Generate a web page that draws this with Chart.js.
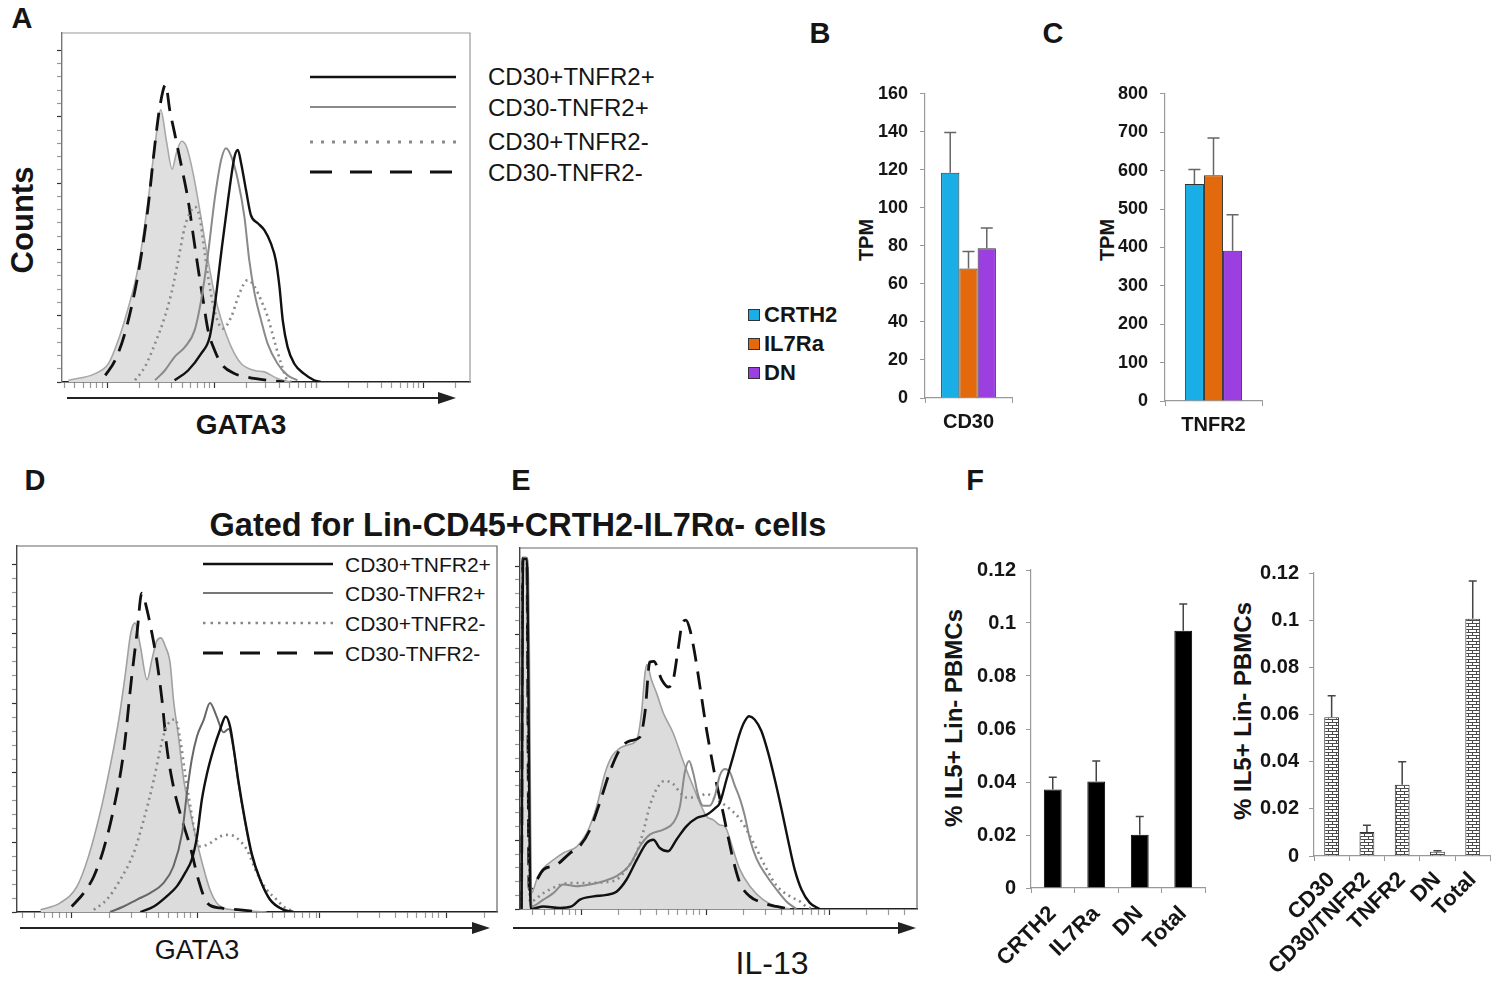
<!DOCTYPE html>
<html>
<head>
<meta charset="utf-8">
<script src="https://cdn.jsdelivr.net/npm/chart.js@4.4.0/dist/chart.umd.min.js"></script>
<style>
  body { margin: 0; background: #fff; width: 1500px; height: 981px; position: relative; overflow: hidden;
         font-family: "Liberation Sans", Arial, sans-serif; color: #151515; }
  canvas { position: absolute; }
  .t { position: absolute; transform: translate(-50%, -50%); white-space: nowrap; line-height: 1; }
  .v { transform: translate(-50%, -50%) rotate(-90deg); }
  .l { position: absolute; transform: translate(0, -50%); white-space: nowrap; line-height: 1; }
  .b { font-weight: bold; }
  .sq { position: absolute; width: 10px; height: 10px; border: 1px solid #333; }
</style>
</head>
<body>

<!-- panel letters and titles -->
<div class="t b" style="left:22px;top:18px;font-size:29px">A</div>
<div class="t b" style="left:820px;top:33px;font-size:29px">B</div>
<div class="t b" style="left:1053px;top:33px;font-size:29px">C</div>
<div class="t b" style="left:35px;top:480px;font-size:29px">D</div>
<div class="t b" style="left:521px;top:480px;font-size:29px">E</div>
<div class="t b" style="left:975px;top:480px;font-size:29px">F</div>

<div class="t b v" style="left:22px;top:220px;font-size:31px">Counts</div>
<div class="t b" style="left:241px;top:425px;font-size:28px">GATA3</div>
<div class="t b" style="left:518px;top:525px;font-size:32.5px">Gated for Lin-CD45+CRTH2-IL7R&alpha;- cells</div>
<div class="t" style="left:197px;top:950px;font-size:27px">GATA3</div>
<div class="t" style="left:772px;top:963px;font-size:32px">IL-13</div>

<div class="t b v" style="left:866px;top:240px;font-size:20px">TPM</div>
<div class="t b v" style="left:1107px;top:240px;font-size:20px">TPM</div>
<div class="t b v" style="left:954px;top:718px;font-size:24px">% IL5+ Lin- PBMCs</div>
<div class="t b v" style="left:1243px;top:711px;font-size:24px">% IL5+ Lin- PBMCs</div>

<!-- legend of B/C -->
<div class="sq" style="left:748px;top:309px;background:#1aaee6"></div>
<div class="sq" style="left:748px;top:338px;background:#e2690c"></div>
<div class="sq" style="left:748px;top:367px;background:#9c3fe0"></div>
<div class="l b" style="left:764px;top:315px;font-size:22px">CRTH2</div>
<div class="l b" style="left:764px;top:344px;font-size:22px">IL7Ra</div>
<div class="l b" style="left:764px;top:373px;font-size:22px">DN</div>

<!-- legends of A and D -->
<svg width="1500" height="981" style="position:absolute;left:0;top:0">
  <line x1="310" x2="456" y1="77" y2="77" stroke="#111" stroke-width="2.5"/>
  <line x1="310" x2="456" y1="107" y2="107" stroke="#8a8a8a" stroke-width="2.2"/>
  <line x1="310" x2="456" y1="142" y2="142" stroke="#8a8a8a" stroke-width="3" stroke-dasharray="3 8"/>
  <line x1="310" x2="456" y1="172" y2="172" stroke="#111" stroke-width="3" stroke-dasharray="22 18"/>
  <line x1="203" x2="333" y1="564" y2="564" stroke="#111" stroke-width="2.5"/>
  <line x1="203" x2="333" y1="593" y2="593" stroke="#777" stroke-width="2"/>
  <line x1="203" x2="333" y1="623" y2="623" stroke="#888" stroke-width="2.5" stroke-dasharray="2.5 5"/>
  <line x1="203" x2="333" y1="653" y2="653" stroke="#111" stroke-width="3" stroke-dasharray="20 17"/>
  <!-- axis arrows -->
  <line x1="67" x2="450" y1="398" y2="398" stroke="#222" stroke-width="2"/>
  <path d="M438,392 L456,398 L438,404 Z" fill="#222"/>
  <line x1="20" x2="485" y1="928" y2="928" stroke="#222" stroke-width="2"/>
  <path d="M472,922 L490,928 L472,934 Z" fill="#222"/>
  <line x1="513" x2="910" y1="928" y2="928" stroke="#222" stroke-width="2"/>
  <path d="M898,922 L916,928 L898,934 Z" fill="#222"/>
</svg>
<div class="l" style="left:488px;top:77px;font-size:24px">CD30+TNFR2+</div>
<div class="l" style="left:488px;top:108px;font-size:24px">CD30-TNFR2+</div>
<div class="l" style="left:488px;top:142px;font-size:24px">CD30+TNFR2-</div>
<div class="l" style="left:488px;top:173px;font-size:24px">CD30-TNFR2-</div>
<div class="l" style="left:345px;top:564px;font-size:21px">CD30+TNFR2+</div>
<div class="l" style="left:345px;top:593px;font-size:21px">CD30-TNFR2+</div>
<div class="l" style="left:345px;top:623px;font-size:21px">CD30+TNFR2-</div>
<div class="l" style="left:345px;top:653px;font-size:21px">CD30-TNFR2-</div>

<canvas id="histA"></canvas>
<canvas id="histD"></canvas>
<canvas id="histE"></canvas>
<canvas id="barB"></canvas>
<canvas id="barC"></canvas>
<canvas id="barF1"></canvas>
<canvas id="barF2"></canvas>

<script>
// ---- histogram A (GATA3), x in channel units 0-1000, y in % of max ----
const aIsoX = [16,81,114,138,163,187,211,228,242,256,270,280,293,305,321,341,358,374,390,415,439,472,496,528,561];
const aIsoY = [0.5,2.4,5.3,12,21.5,33,52,68,78,69,61,65.5,69,67.5,60,47,35,25,18,10,5.3,3.3,2.9,1,0];
const aPosPosX = [276,309,341,362,374,390,407,423,431,439,451,463,480,496,512,524,533,541,553,569,593,618,634];
const aPosPosY = [0.5,3.3,8.1,12.9,21.5,36.8,52.2,64.6,66.5,62.7,55,47.8,45.5,43.5,39.7,34.9,27.3,17.7,10,5.3,2.4,0.5,0];
const aNegPosX = [228,252,276,301,325,341,358,374,390,402,415,431,447,459,472,488,504,528,553,577];
const aNegPosY = [0.5,3.3,7.2,10,14.8,23.4,36.8,52.2,63.6,67,64.6,57.9,47.4,34.9,25.4,17.7,11,5.3,1.9,0.5];
const aPosNegX = [179,203,228,252,268,285,301,313,325,337,350,362,378,394,415,435,455,472,488,504,520,537,553,569];
const aPosNegY = [0.5,4.3,11,18.7,25.4,35,44.5,48.3,50.2,47.4,36.8,27.3,18.7,15.3,18.7,25.4,29.2,27.3,23.4,18.7,12,5.3,0.5,0];
const aNegNegX = [106,130,154,179,195,211,228,240,254,264,276,293,309,321,333,346,358,374,390,423,455,504,545];
const aNegNegY = [1.9,6.2,13.9,26.3,36.8,50.2,68.4,79,85.2,78,71.3,61.7,52.2,42.6,33,23.4,14.8,9.1,5.3,2.4,1.4,0.5,0];
const aDecades = [111, 374, 624, 886];

// ---- histogram D (GATA3, gated) ----
const dIsoX = [49,90,125,149,173,194,212,226,237,246,257,271,281,291,300,309,319,326,337,347,361,375,389,402,416,430,451,493,520];
const dIsoY = [0.6,2.5,7,15.2,27,39.8,52.5,65.3,76.2,79,72.6,63.5,68.9,74,74.9,72.6,68,58,47.3,36.4,27.3,19.1,11.8,6.1,2.5,1.1,0.6,0.2,0];
const dPosPosX = [257,285,312,333,350,364,375,385,396,409,423,435,444,451,461,475,489,507,527,555,576];
const dPosPosY = [0,1.5,4.3,7,10.6,14.3,20.6,30.6,37.9,44.3,49.8,53.4,50.6,45.1,36,25.1,16,8.7,3.4,0.6,0];
const dNegPosX = [194,222,250,278,305,326,344,354,364,375,389,402,416,430,441,451,461,475,489,507,527,548,576];
const dNegPosY = [0,1.5,3.4,5.2,7.9,12.5,21.6,32.5,41.6,48,52.5,57.1,53.4,49.1,50,44.6,35.5,24.6,15.5,8.7,3.4,1.1,0];
const dPosNegX = [160,187,215,243,264,285,298,309,319,330,340,350,361,371,382,402,423,441,458,479,500,520,541,555,576];
const dPosNegY = [0.6,3.4,8.8,16.1,25.2,36.1,44.3,49.8,52.1,52.6,47.1,38,28.9,21.6,17.9,18.8,20.6,21.1,20.2,17,10.6,6.1,3.4,1.5,0.2];
const dNegNegX = [114,139,160,180,201,222,239,250,260,271,281,291,302,312,326,344,361,378,396,423,465,507];
const dNegNegY = [1.5,5.2,9.7,17,28,43.5,64.3,76.2,87.1,82.5,76.2,68.9,58,45.1,34.2,25.1,17.8,8.8,2.5,1.1,0.6,0];
const dDecades = [114, 375, 631, 895];

// ---- histogram E (IL-13, gated) ----
const eIsoX = [2,5,21,29,42,59,84,109,143,168,193,214,231,252,273,294,306,315,320,331,344,361,386,407,419,436,457,470,487,503,516,524,537,554,579,612,646,680];
const eIsoY = [0,96.7,96.7,4.4,8.1,11.3,13.6,15.5,17.3,21,28.4,37.6,42.2,44.6,45.5,46.9,54.3,65.4,67.7,63.5,59.8,54.3,48.7,42.2,38.6,34,28.4,25.6,24.7,23.3,22.9,21,16.4,10.9,6.3,2.6,0.7,0];
const ePosPosX = [4,8,17,27,59,101,130,151,185,218,243,268,294,319,336,352,373,394,419,445,470,491,503,520,537,554,566,577,591,608,625,642,659,675,692,709,730,755];
const ePosPosY = [0,97,97,0,0.7,0.3,0.7,2.6,3.5,3.9,4.8,8.1,13.6,18.3,19.2,16.9,16,19.2,22.9,25.2,26.1,27.9,29.3,35.8,42.3,48.8,52,53.4,52.5,49.3,43.3,35.8,27.5,19.2,10.9,5.4,1.7,0];
const eNegPosX = [4,7,17,29,59,84,109,143,176,210,243,277,302,327,361,386,403,415,426,436,449,461,478,491,503,516,529,541,554,566,579,596,621,646,671,696];
const eNegPosY = [0,97.2,97.2,0.7,2.6,4.4,6.8,6.3,6.8,7.7,9.1,12.3,17.4,20.6,22,23.9,28.5,37.8,41,37.8,31.4,28.6,28.6,31.4,36.9,38.8,37.8,34.2,30.5,25.9,19.4,13.9,9.2,5.4,2.1,0];
const ePosNegX = [4,7,17,25,59,92,126,168,210,243,268,294,310,327,344,365,386,403,419,445,470,491,512,529,554,579,600,621,646,680,705,721,738];
const ePosNegY = [0,97.2,97.2,2,4.4,6.3,7.2,7.2,7.4,8.1,11.1,15.7,21.2,28.6,33.2,35.5,34.6,32.3,30.9,30.9,31.9,30.5,29.1,27.7,24.9,20.3,15.7,11.1,6.5,3.5,2.1,0.7,0];
const eNegNegX = [4,7,17,23,59,92,126,151,176,201,226,252,277,302,315,327,337,357,373,386,398,409,418,428,440,457,470,482,495,512,524,537,554,579,612,646,680];
const eNegNegY = [0,97.2,97.2,5.4,10.9,12.2,15.5,17.5,21.9,29.5,37.9,44.3,46.6,47.6,54.6,68.4,68.6,63.5,61.5,63.5,71.8,79.2,80,77.4,70.9,58.9,49.6,42.2,34.8,26.5,20.1,13.6,7.2,3.5,1.7,0.7,0];
const eDecades = [155, 470, 780];

const countMajors = [0, 19, 38, 57, 76, 95];

// ---- B / C: TPM ----
const groups = ['CRTH2', 'IL7Ra', 'DN'];
const groupColors = ['#1aaee6', '#e2690c', '#9c3fe0'];
const cd30Mean = [118.5, 68.1, 78.7];
const cd30Err = [21.2, 8.9, 10.7];
const tnfr2Mean = [565, 588, 391];
const tnfr2Err = [38, 97, 94];

// ---- F ----
const fLeftCats = ['CRTH2', 'IL7Ra', 'DN', 'Total'];
const fLeftMean = [0.0372, 0.0402, 0.0201, 0.0971];
const fLeftErr = [0.0046, 0.0077, 0.0069, 0.0101];
const fRightCats = ['CD30', 'CD30/TNFR2', 'TNFR2', 'DN', 'Total'];
const fRightMean = [0.0588, 0.0102, 0.0302, 0.0018, 0.1006];
const fRightErr = [0.0092, 0.0028, 0.0098, 0.0004, 0.016];

Chart.defaults.font.family = '"Liberation Sans", Arial, sans-serif';
Chart.defaults.color = '#151515';
Chart.defaults.animation = false;
Chart.defaults.plugins.legend.display = false;
Chart.defaults.plugins.tooltip.enabled = false;

// top and right edge of the histogram boxes
const frame = {
  id: 'frame',
  afterDraw(chart, args, opts) {
    const { left, top, right, bottom } = chart.chartArea;
    const ctx = chart.ctx;
    ctx.save();
    ctx.strokeStyle = opts.color || '#888';
    ctx.lineWidth = 1.2;
    ctx.beginPath();
    ctx.moveTo(left, top); ctx.lineTo(right, top); ctx.lineTo(right, bottom);
    ctx.stroke();
    ctx.restore();
  }
};

// upper error bars for the bar charts
const errorBars = {
  id: 'errorBars',
  afterDatasetsDraw(chart, args, opts) {
    const ctx = chart.ctx, ys = chart.scales.y;
    chart.data.datasets.forEach((ds, i) => {
      if (!ds.errors) return;
      chart.getDatasetMeta(i).data.forEach((bar, j) => {
        const top = ys.getPixelForValue(ds.data[j] + ds.errors[j]);
        ctx.save();
        ctx.strokeStyle = opts.color || '#555';
        ctx.lineWidth = 1.5;
        ctx.beginPath();
        ctx.moveTo(bar.x, bar.y); ctx.lineTo(bar.x, top);
        ctx.moveTo(bar.x - opts.cap, top); ctx.lineTo(bar.x + opts.cap, top);
        ctx.stroke();
        ctx.restore();
      });
    });
  }
};

function place(id, area, m) {
  const c = document.getElementById(id);
  const w = area.r - area.l + m.l + m.r, h = area.b - area.t + m.t + m.b;
  c.width = w; c.height = h;
  c.style.left = (area.l - m.l) + 'px';
  c.style.top = (area.t - m.t) + 'px';
  c.style.width = w + 'px';
  c.style.height = h + 'px';
  return c;
}

// decade + log minor ticks of a flow cytometry axis
function flowTicks(majors, decade) {
  const t = majors.map(v => ({ value: v, major: true }));
  [majors[0] - decade].concat(majors).forEach(m => {
    for (let k = 2; k < 10; k++) {
      const v = m + decade * Math.log10(k);
      if (v > 2 && v < 998) t.push({ value: v, major: false });
    }
  });
  return t.sort((a, b) => a.value - b.value);
}
function countTicks() {
  const t = [];
  countMajors.forEach((v, i) => {
    t.push({ value: v, major: true });
    if (i < countMajors.length - 1) for (let k = 1; k < 5; k++) t.push({ value: v + k * 3.8, major: false });
  });
  return t;
}
const tickCol = c => (c.tick && c.tick.major ? '#333' : '#999');

function curve(xs, ys, color, width, dash, fill) {
  return {
    data: xs.map((x, i) => ({ x: x, y: ys[i] })),
    borderColor: color, borderWidth: width, borderDash: dash || [],
    backgroundColor: fill || 'transparent', fill: fill ? 'origin' : false,
    pointRadius: 0, cubicInterpolationMode: 'monotone'
  };
}

function histogram(id, area, datasets, majors, decade, frameColor, leftColor) {
  const m = { l: 10, t: 2, r: 2, b: 10 };
  const c = place(id, area, m);
  return new Chart(c, {
    type: 'line',
    data: { datasets: datasets },
    options: {
      responsive: false, devicePixelRatio: 1,
      layout: { padding: { left: 0, top: m.t, right: m.r, bottom: 0 } },
      scales: {
        x: {
          type: 'linear', min: 0, max: 1000,
          afterBuildTicks: s => { s.ticks = flowTicks(majors, decade); },
          afterFit: s => { s.height = m.b; },
          ticks: { display: false, autoSkip: false },
          grid: { drawOnChartArea: false, tickLength: 6, tickColor: tickCol, tickWidth: 1.2 },
          border: { color: '#222', width: 1.6 }
        },
        y: {
          min: 0, max: 100,
          afterBuildTicks: s => { s.ticks = countTicks(); },
          afterFit: s => { s.width = m.l; },
          ticks: { display: false, autoSkip: false },
          grid: { drawOnChartArea: false, tickLength: 5, tickColor: tickCol, tickWidth: 1.2 },
          border: { color: leftColor, width: 1.4 }
        }
      },
      plugins: { frame: { color: frameColor } }
    },
    plugins: [frame]
  });
}

histogram('histA', { l: 62, t: 33, r: 470, b: 382 }, [
  curve(aPosPosX, aPosPosY, '#111', 2.4),
  curve(aNegPosX, aNegPosY, '#8a8a8a', 2),
  curve(aPosNegX, aPosNegY, '#8a8a8a', 2.6, [2, 4]),
  curve(aNegNegX, aNegNegY, '#111', 2.8, [18, 10]),
  curve(aIsoX, aIsoY, '#a8a8a8', 1.6, [], '#dfdfdf')
], aDecades, 263, '#9a9a9a', '#777');

histogram('histD', { l: 17, t: 546, r: 497, b: 912 }, [
  curve(dPosPosX, dPosPosY, '#111', 2.4),
  curve(dNegPosX, dNegPosY, '#666', 2),
  curve(dPosNegX, dPosNegY, '#888', 2.6, [2, 4]),
  curve(dNegNegX, dNegNegY, '#111', 2.8, [18, 10]),
  curve(dIsoX, dIsoY, '#a0a0a0', 1.6, [], '#dcdcdc')
], dDecades, 260, '#666', '#444');

histogram('histE', { l: 520, t: 548, r: 917, b: 909 }, [
  curve(ePosPosX, ePosPosY, '#111', 2.4),
  curve(eNegPosX, eNegPosY, '#8a8a8a', 2),
  curve(ePosNegX, ePosNegY, '#888', 2.6, [2, 4]),
  curve(eNegNegX, eNegNegY, '#111', 2.8, [18, 10]),
  curve(eIsoX, eIsoY, '#a0a0a0', 1.6, [], '#dcdcdc')
], eDecades, 312, '#666', '#444');

function barAxes(m, yMax, step, tickSize, tickPad, xFont, xPad, rotation, callback) {
  return {
    x: {
      afterFit: s => { s.height = m.b; },
      grid: { drawOnChartArea: false, offset: true, tickLength: 5, tickColor: '#999' },
      border: { color: '#999', width: 1.2 },
      ticks: { font: { size: xFont, weight: 'bold' }, padding: xPad, autoSkip: false,
               minRotation: rotation, maxRotation: rotation, color: '#151515' }
    },
    y: {
      min: 0, max: yMax,
      afterFit: s => { s.width = m.l; },
      grid: { drawOnChartArea: false, tickLength: 5, tickColor: '#999' },
      border: { color: '#999', width: 1.2 },
      ticks: { stepSize: step, padding: tickPad, font: { size: tickSize, weight: 'bold' }, color: '#151515',
               callback: callback || (v => v) }
    }
  };
}

function tpmChart(id, area, cat, means, errs, yMax, step, catPct) {
  const m = { l: 70, t: 12, r: 12, b: 45 };
  const c = place(id, area, m);
  return new Chart(c, {
    type: 'bar',
    data: {
      labels: [cat],
      datasets: groups.map((g, i) => ({
        label: g, data: [means[i]], errors: [errs[i]],
        backgroundColor: groupColors[i], borderColor: '#333', borderWidth: 1,
        barPercentage: 1, categoryPercentage: catPct
      }))
    },
    options: {
      responsive: false, devicePixelRatio: 1,
      layout: { padding: { left: 0, top: m.t, right: m.r, bottom: 0 } },
      scales: barAxes(m, yMax, step, 18, 12, 20, 7, 0),
      plugins: { errorBars: { cap: 6, color: '#666' } }
    },
    plugins: [errorBars]
  });
}

tpmChart('barB', { l: 925, t: 83, r: 1012, b: 398 }, 'CD30', cd30Mean, cd30Err, 160, 20, 0.63);
tpmChart('barC', { l: 1165, t: 83, r: 1262, b: 401 }, 'TNFR2', tnfr2Mean, tnfr2Err, 800, 100, 0.59);

const frac = v => String(+v.toFixed(2));

function brickPattern(canvas) {
  const tile = document.createElement('canvas');
  tile.width = 8; tile.height = 6;
  const g = tile.getContext('2d');
  g.fillStyle = '#fff'; g.fillRect(0, 0, 8, 6);
  g.fillStyle = '#4a4a4a';
  g.fillRect(0, 0, 8, 1); g.fillRect(0, 3, 8, 1);
  g.fillRect(0, 0, 1, 3); g.fillRect(4, 3, 1, 3);
  return canvas.getContext('2d').createPattern(tile, 'repeat');
}

function fChart(id, area, m, cats, means, errs, fill, border, barPct, xPad) {
  const c = place(id, area, m);
  return new Chart(c, {
    type: 'bar',
    data: {
      labels: cats,
      datasets: [{
        data: means, errors: errs,
        backgroundColor: fill === 'brick' ? brickPattern(c) : fill,
        borderColor: border, borderWidth: 1,
        barPercentage: barPct, categoryPercentage: 1
      }]
    },
    options: {
      responsive: false, devicePixelRatio: 1,
      layout: { padding: { left: 0, top: m.t, right: m.r, bottom: 0 } },
      scales: barAxes(m, 0.12, 0.02, 20, 10, 22, xPad, 45, frac),
      plugins: { errorBars: { cap: 4, color: '#444' } }
    },
    plugins: [errorBars]
  });
}

fChart('barF1', { l: 1031, t: 560, r: 1205, b: 888 }, { l: 70, t: 12, r: 12, b: 95 },
  fLeftCats, fLeftMean, fLeftErr, '#000', '#000', 0.41, 8);
fChart('barF2', { l: 1314, t: 563, r: 1492, b: 856 }, { l: 70, t: 12, r: 6, b: 125 },
  fRightCats, fRightMean, fRightErr, 'brick', '#333', 0.42, 6);
</script>
</body>
</html>
